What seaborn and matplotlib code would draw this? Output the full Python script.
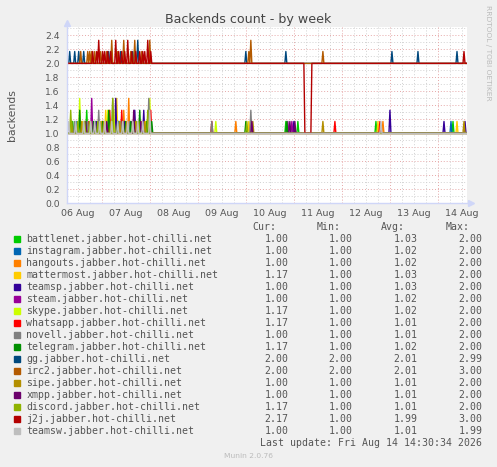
import matplotlib
matplotlib.use("Agg")
import matplotlib.pyplot as plt
import matplotlib.patches as mpatches
import numpy as np
import pandas as pd
import seaborn as sns

# munin week view: 30 minute averages
START = "2026-08-06 06:30"
END = "2026-08-14 14:30"

hosts = [
    "battlenet.jabber.hot-chilli.net", "instagram.jabber.hot-chilli.net",
    "hangouts.jabber.hot-chilli.net", "mattermost.jabber.hot-chilli.net",
    "teamsp.jabber.hot-chilli.net", "steam.jabber.hot-chilli.net",
    "skype.jabber.hot-chilli.net", "whatsapp.jabber.hot-chilli.net",
    "novell.jabber.hot-chilli.net", "telegram.jabber.hot-chilli.net",
    "gg.jabber.hot-chilli.net", "irc2.jabber.hot-chilli.net",
    "sipe.jabber.hot-chilli.net", "xmpp.jabber.hot-chilli.net",
    "discord.jabber.hot-chilli.net", "j2j.jabber.hot-chilli.net",
    "teamsw.jabber.hot-chilli.net",
]
colors = [
    "#00CC00", "#0066B3", "#FF8000", "#FFCC00", "#330099", "#990099",
    "#CCFF00", "#FF0000", "#808080", "#008F00", "#00487D", "#B35A00",
    "#B38F00", "#6B006B", "#8FB300", "#B30000", "#BEBEBE",
]
baselines = [1.0, 1.0, 1.0, 1.0, 1.0, 1.0, 1.0, 1.0, 1.0, 1.0,
             2.0, 2.0, 1.0, 1.0, 1.0, 2.0, 1.0]

# spikes: (hours after START, value)
battlenet_spikes = [(3, 1.17), (10, 1.33), (14.5, 1.17), (22, 1.17), (26, 1.17), (29, 1.17),
                    (35, 1.17), (40, 1.17), (109.5, 1.17), (115.5, 1.17), (154.5, 1.17),
                    (193, 1.17)]
instagram_spikes = [(5, 1.17), (13, 1.17), (26, 1.17), (33, 1.17), (192, 1.17)]
hangouts_spikes = [(9, 1.17), (17.5, 1.17), (24, 1.17), (28.5, 1.33), (31, 1.5), (37.5, 1.17),
                   (84.5, 1.17), (158, 1.17)]
mattermost_spikes = [(8, 1.17), (19.5, 1.33), (25, 1.5), (30, 1.17), (34.5, 1.17),
                     (39.5, 1.17), (91, 1.17), (155.5, 1.17), (195, 1.17)]
teamsp_spikes = [(15, 1.17), (24.5, 1.5), (29, 1.17), (34, 1.33), (38.5, 1.33), (41, 1.17),
                 (113.5, 1.17), (161.5, 1.33), (188.5, 1.17), (199, 1.17)]
steam_spikes = [(12.5, 1.5), (18, 1.17), (27, 1.17), (32.5, 1.17), (38, 1.17),
                (110.5, 1.17), (112.5, 1.17)]
skype_spikes = [(6.5, 1.5), (20.5, 1.33), (23.5, 1.33), (41.5, 1.5), (74.5, 1.17)]
whatsapp_spikes = [(11, 1.17), (21.5, 1.33), (27.5, 1.33), (36, 1.17), (42, 1.33),
                   (72.5, 1.17), (134, 1.17), (156.5, 1.17)]
novell_spikes = [(4, 1.17), (10.5, 1.17), (16, 1.33), (23, 1.5), (27, 1.17), (31.5, 1.17),
                 (37, 1.17), (41, 1.5), (72.5, 1.17), (92, 1.33)]
telegram_spikes = [(6.5, 1.33), (13.5, 1.17), (18, 1.17), (21, 1.33), (25.5, 1.17), (29.5, 1.17),
                   (32, 1.17), (36.5, 1.33), (40, 1.17), (42.5, 1.17), (89.5, 1.17), (110, 1.17)]
gg_spikes = [(1.5, 2.17), (4, 2.17), (6, 2.17), (8.5, 2.17), (21, 2.17), (27, 2.17), (33, 2.17),
             (35.5, 2.33), (89.5, 2.17), (109.5, 2.17), (162.5, 2.17), (175.5, 2.17),
             (195, 2.17)]
irc2_spikes = [(7, 2.17), (10.5, 2.17), (11.5, 2.17), (12.5, 2.17), (14, 2.17), (17, 2.17),
               (20, 2.17), (22.5, 2.33), (25.5, 2.17), (28.5, 2.33), (32, 2.17), (34, 2.33),
               (37.5, 2.17), (41.5, 2.33), (91, 2.17), (92, 2.33), (128, 2.17)]
sipe_spikes = [(2.5, 1.17), (7.5, 1.17), (12, 1.17), (18.5, 1.17), (22, 1.17), (26.5, 1.17),
               (30, 1.17), (34.5, 1.17), (39, 1.17), (93, 1.17), (128, 1.17), (198.5, 1.17)]
xmpp_spikes = [(9.5, 1.17), (14, 1.17), (20, 1.17), (28, 1.17), (33.5, 1.33), (37, 1.17),
               (92.5, 1.17), (111.5, 1.17), (114, 1.17)]
discord_spikes = [(2, 1.33), (5.5, 1.17), (9, 1.17), (11.5, 1.17), (15.5, 1.17), (17, 1.17),
                  (23, 1.5), (28, 1.17), (33, 1.17), (36, 1.17), (40.5, 1.33), (90, 1.17)]
j2j_spikes = [(13, 2.17), (15, 2.17), (16, 2.33), (18, 2.17), (19, 2.17), (20.5, 2.17),
              (22, 2.17), (24.5, 2.33), (26, 2.17), (27.5, 2.17), (29, 2.17), (30.5, 2.33),
              (32.5, 2.17), (34.5, 2.17), (36.5, 2.17), (38, 2.17), (39, 2.17), (40.5, 2.33),
              (42, 2.17), (198.5, 2.17)]
teamsw_spikes = [(1, 1.17), (4.5, 1.17), (8.5, 1.17), (12, 1.17), (14, 1.17), (16.5, 1.17),
                 (19, 1.17), (22.5, 1.17), (25.5, 1.17), (28, 1.17), (30.5, 1.17), (33, 1.17),
                 (35.5, 1.17), (38, 1.17), (41.5, 1.33), (157, 1.17)]
# j2j outage: (from hour, to hour, value)
j2j_dips = [(119, 122, 1.0)]

spikes = [battlenet_spikes, instagram_spikes, hangouts_spikes, mattermost_spikes,
          teamsp_spikes, steam_spikes, skype_spikes, whatsapp_spikes, novell_spikes,
          telegram_spikes, gg_spikes, irc2_spikes, sipe_spikes, xmpp_spikes,
          discord_spikes, j2j_spikes, teamsw_spikes]

cur_vals = ["1.00", "1.00", "1.00", "1.17", "1.00", "1.00", "1.17", "1.17", "1.00",
            "1.17", "2.00", "2.00", "1.00", "1.00", "1.17", "2.17", "1.00"]
min_vals = ["1.00"] * 10 + ["2.00", "2.00"] + ["1.00"] * 5
avg_vals = ["1.03", "1.02", "1.02", "1.03", "1.03", "1.02", "1.02", "1.01", "1.01",
            "1.02", "2.01", "2.01", "1.01", "1.01", "1.01", "1.99", "1.01"]
max_vals = ["2.00"] * 10 + ["2.99", "3.00", "2.00", "2.00", "2.00", "3.00", "1.99"]

times = pd.date_range(START, END, freq="30min")
frames = []
for host, base, peaks in zip(hosts, baselines, spikes):
    vals = np.full(len(times), base)
    for h, v in peaks:
        vals[int(round(h * 2))] = v
    if host.startswith("j2j"):
        for a, b, v in j2j_dips:
            vals[int(a * 2):int(b * 2) + 1] = v
    frames.append(pd.DataFrame({"time": times, "value": vals, "host": host}))
df = pd.concat(frames, ignore_index=True)

W, H = 497, 467
TXT = "#555555"
AXIS = "#CFD6F8"


def fx(x):
    return x / W


def fy(y):
    return 1 - y / H


sns.set_style("white")
plt.rcParams["font.family"] = ["DejaVu Sans"]

fig = plt.figure(figsize=(W / 100, H / 100), dpi=100, facecolor="#F0F0F0")
ax = fig.add_axes([fx(66.7), fy(203.3), 400.3 / W, 176.3 / H])
ax.set_facecolor("white")

# grid, munin style: minor grey dots, major red dots
for y in np.arange(1, 26) / 10:
    major = round(y * 10) % 2 == 0
    ax.axhline(y, color="#E6A8A8" if major else "#D2D2D2", lw=0.7,
               ls=(0, (1, 2)), zorder=1)
for t in pd.date_range("2026-08-06 12:00", END, freq="6h"):
    ax.axvline(t, color="#E6A8A8" if t.hour == 0 else "#D2D2D2", lw=0.7,
               ls=(0, (1, 2)), zorder=1)

sns.lineplot(data=df, x="time", y="value", hue="host", hue_order=hosts,
             palette=dict(zip(hosts, colors)), estimator=None, linewidth=1.0,
             legend=False, ax=ax, zorder=3)

ax.set_xlim(times[0], times[-1])
ax.set_ylim(0, 2.52)
ax.set_yticks(np.arange(0, 13) * 0.2)
ax.set_yticklabels([f"{v:.1f}" for v in np.arange(0, 13) * 0.2])
noons = pd.date_range("2026-08-06 12:00", periods=9, freq="D")
ax.set_xticks(noons)
ax.set_xticklabels([t.strftime("%d %b") for t in noons])
ax.tick_params(axis="x", length=0, pad=4, labelsize=6.8, labelcolor=TXT)
ax.tick_params(axis="y", length=2, color=AXIS, pad=3, labelsize=6.6, labelcolor=TXT)
ax.set_xlabel("")
ax.set_ylabel("backends", fontsize=7.8, color=TXT)
ax.yaxis.set_label_coords(-(66.7 - 16.5) / 400.3, 0.5)
for side in ("top", "right"):
    ax.spines[side].set_visible(False)
for side in ("left", "bottom"):
    ax.spines[side].set_color(AXIS)
    ax.spines[side].set_linewidth(1)
    ax.spines[side].set_zorder(4)
# axis arrows
ax.plot([0], [1.02], marker="^", ms=4, color=AXIS, transform=ax.transAxes, clip_on=False)
ax.plot([1.01], [0], marker=">", ms=4, color=AXIS, transform=ax.transAxes, clip_on=False)

fig.text(0.5, fy(19), "Backends count - by week", ha="center", va="center",
         fontsize=9.1, color="#444444")
fig.text(fx(487.7), fy(53), "RRDTOOL / TOBI OETIKER", rotation=270, ha="center",
         va="center", fontsize=5.4, color="#BBBBBB")

# legend block
mono = dict(family="DejaVu Sans Mono", fontsize=7.1, color=TXT, va="center")
row0, step = 239.3, 12
fig.text(fx(276), fy(227.3), "Cur:", ha="right", **mono)
fig.text(fx(340.7), fy(227.3), "Min:", ha="right", **mono)
fig.text(fx(405), fy(227.3), "Avg:", ha="right", **mono)
fig.text(fx(470), fy(227.3), "Max:", ha="right", **mono)
for i, (host, c) in enumerate(zip(hosts, colors)):
    y = row0 + i * step
    fig.patches.append(mpatches.Rectangle((fx(14), fy(y + 3)), 6 / W, 6 / H,
                                          transform=fig.transFigure, color=c))
    fig.text(fx(26.3), fy(y), host, ha="left", **mono)
    fig.text(fx(288.3), fy(y), cur_vals[i], ha="right", **mono)
    fig.text(fx(352.7), fy(y), min_vals[i], ha="right", **mono)
    fig.text(fx(417.7), fy(y), avg_vals[i], ha="right", **mono)
    fig.text(fx(482.3), fy(y), max_vals[i], ha="right", **mono)
fig.text(fx(482.3), fy(443.3), "Last update: Fri Aug 14 14:30:34 2026", ha="right", **mono)
fig.text(fx(248), fy(456), "Munin 2.0.76", ha="center", va="center",
         fontsize=5.4, color="#BBBBBB")

fig.savefig("out.png", dpi=100, facecolor=fig.get_facecolor())
